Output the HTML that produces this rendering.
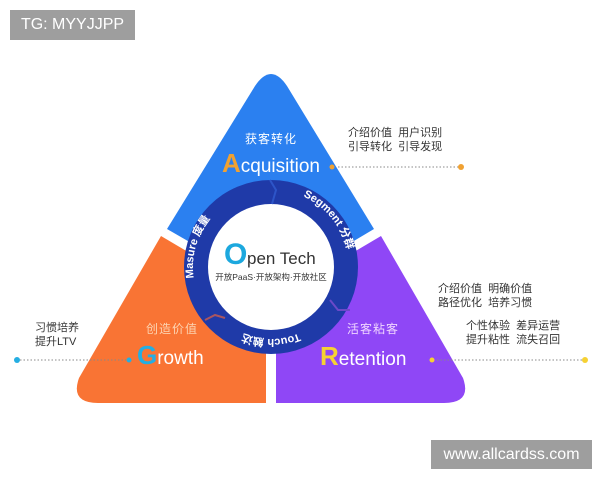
<!DOCTYPE html>
<html><head><meta charset="utf-8"><style>
body{margin:0;width:600px;height:480px;background:#fff;overflow:hidden;font-family:"Liberation Sans","Noto Sans CJK SC",sans-serif;}
svg{position:absolute;left:0;top:0}
.wm{position:absolute;background:#9e9e9e;color:#fff;font-family:"Liberation Sans",sans-serif;}
</style></head><body>
<svg width="600" height="480" viewBox="0 0 600 480">
<defs>
<path id="pl" d="M194,280 A78,78 0 0 1 262,190"/>
<path id="pr" d="M280,190 A78,78 0 0 1 348,280"/>
<path id="pb" d="M343,267 A72,72 0 0 1 199,267"/>
</defs>
<path d="M167,229 L200,248 L342,248 L374,229 L287,86 Q271,62 255,86 Z" fill="#2b80f0"/>
<path d="M161,236 L205,262 L266,300 L266,403 L98,403 Q70,403 79,378 Z" fill="#f97434"/>
<path d="M381,236 L337,262 L276,300 L276,403 L444,403 Q472,403 463,378 Z" fill="#8f47f6"/>
<circle cx="271" cy="267" r="87" fill="#1f3aa8"/>
<circle cx="271" cy="267" r="63" fill="#fff"/>
<path d="M270,180 L276,190 L272,204" stroke="#2d55c8" stroke-width="2" fill="none"/>
<path d="M205,320 L215,315 L225,318" stroke="#a95560" stroke-width="2" fill="none"/>
<path d="M330,300 L338,310 L350,310" stroke="#6b49c8" stroke-width="2" fill="none"/>
<g font-size="11" font-weight="bold" fill="#fff">
<text><textPath href="#pl" startOffset="2">Masure 度量</textPath></text>
<text><textPath href="#pr" startOffset="24">Segment 分群</textPath></text>
<text text-anchor="middle"><textPath href="#pb" startOffset="50%">Touch 触达</textPath></text>
</g>
<text x="224" y="264" font-size="30" font-weight="bold" fill="#1ca8de">O</text>
<text x="247" y="264" font-size="17" fill="#333">pen Tech</text>
<text x="271" y="280" font-size="8.5" fill="#333" text-anchor="middle">开放PaaS·开放架构·开放社区</text>
<text x="271" y="143" font-size="12" fill="#fff" text-anchor="middle" letter-spacing="1">获客转化</text>
<text x="271" y="172" text-anchor="middle" fill="#fff" font-size="19"><tspan font-size="26" font-weight="bold" fill="#f0a132">A</tspan>cquisition</text>
<circle cx="332" cy="167" r="2.5" fill="#f0a132"/>
<line x1="338" y1="167" x2="460" y2="167" stroke="#888" stroke-width="1" stroke-dasharray="1.5,2"/>
<circle cx="461" cy="167" r="3" fill="#f0a132"/>
<text x="172" y="333" font-size="12" fill="#fcd4b2" text-anchor="middle" letter-spacing="1">创造价值</text>
<text x="137" y="364" fill="#fff" font-size="19"><tspan font-size="26" font-weight="bold" fill="#25aee2">G</tspan>rowth</text>
<circle cx="129" cy="360" r="2.5" fill="#25aee2"/>
<line x1="20" y1="360" x2="126" y2="360" stroke="#888" stroke-width="1" stroke-dasharray="1.5,2"/>
<circle cx="17" cy="360" r="3" fill="#25aee2"/>
<text x="373" y="333" font-size="12" fill="#f0d6ff" text-anchor="middle" letter-spacing="1">活客粘客</text>
<text x="320" y="365" fill="#fff" font-size="19"><tspan font-size="26" font-weight="bold" fill="#f6d133">R</tspan>etention</text>
<circle cx="432" cy="360" r="2.5" fill="#f6d133"/>
<line x1="437" y1="360" x2="582" y2="360" stroke="#888" stroke-width="1" stroke-dasharray="1.5,2"/>
<circle cx="585" cy="360" r="3" fill="#f6d133"/>
<g font-size="11" fill="#333">
<text x="348" y="136">介绍价值&#160;&#160;用户识别</text>
<text x="348" y="150">引导转化&#160;&#160;引导发现</text>
<text x="438" y="292">介绍价值&#160;&#160;明确价值</text>
<text x="438" y="306">路径优化&#160;&#160;培养习惯</text>
<text x="466" y="329">个性体验&#160;&#160;差异运营</text>
<text x="466" y="343">提升粘性&#160;&#160;流失召回</text>
<text x="35" y="331">习惯培养</text>
<text x="35" y="345">提升LTV</text>
</g>
</svg>
<div class="wm" style="left:10px;top:10px;width:125px;height:30px;font-size:16px;line-height:30px;text-align:center">TG: MYYJJPP</div>
<div class="wm" style="left:431px;top:440px;width:161px;height:29px;font-size:16px;line-height:29px;text-align:center">www.allcardss.com</div>
</body></html>
